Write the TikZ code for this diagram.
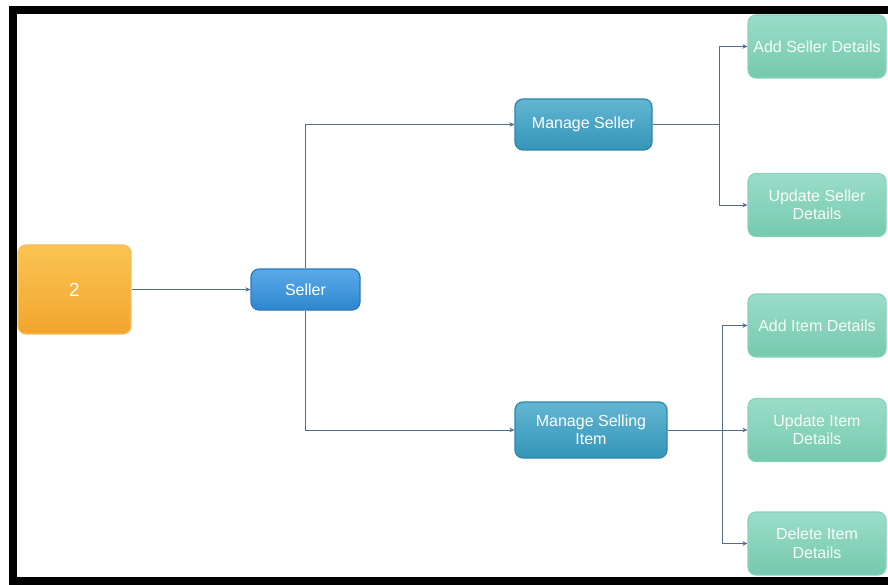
\documentclass[tikz,border=0pt]{standalone}
\usepackage{fontspec}
\setmainfont{Liberation Sans}
\usetikzlibrary{arrows.meta}
\definecolor{arrc}{HTML}{4F6E8E}
\definecolor{orTop}{HTML}{FAC451}
\definecolor{orBot}{HTML}{F2A52E}
\definecolor{orDraw}{HTML}{F4BE5E}
\definecolor{blTop}{HTML}{5AAAE8}
\definecolor{blBot}{HTML}{2F86CE}
\definecolor{blDraw}{HTML}{2A78BA}
\definecolor{tlTop}{HTML}{62B6D2}
\definecolor{tlBot}{HTML}{3595B8}
\definecolor{tlDraw}{HTML}{2E87A8}
\definecolor{mnTop}{HTML}{9ADDC8}
\definecolor{mnBot}{HTML}{75C9AE}
\definecolor{mnDraw}{HTML}{86D2BA}
\tikzset{
  box/.style={rounded corners=8pt, inner sep=0pt, align=center, text=white, font=\fontsize{16}{18.5}\selectfont, line width=1.2pt},
  rootbox/.style={box, top color=orTop, bottom color=orBot, draw=orDraw, minimum width=113pt, minimum height=89pt, font=\fontsize{19}{21}\selectfont},
  sellerbox/.style={box, top color=blTop, bottom color=blBot, draw=blDraw, minimum width=109pt, minimum height=41pt},
  midbox/.style={box, top color=tlTop, bottom color=tlBot, draw=tlDraw},
  leafbox/.style={box, top color=mnTop, bottom color=mnBot, draw=mnDraw, minimum width=138pt, minimum height=63pt, text=white!94!mnBot},
  arr/.style={draw=arrc, line width=0.8pt, -{Stealth[length=5pt,width=4.5pt]}},
  ln/.style={draw=arrc, line width=0.8pt}
}
\begin{document}
\begin{tikzpicture}[x=1pt,y=-1pt]
\useasboundingbox (0,0) rectangle (888,585);
\fill[white] (0,0) rectangle (888,585);
% frame
\fill[black] (9,6) rectangle (888,14);
\fill[black] (9,6) rectangle (17,585);
\fill[black] (9,577) rectangle (888,585);

\node[rootbox] (root) at (74.5,289.5) {2};
\node[sellerbox] (seller) at (305.5,289.5) {Seller};
\node[midbox, minimum width=137pt, minimum height=51pt] (ms) at (583.5,124.5) {Manage Seller};
\node[midbox, minimum width=152pt, minimum height=56pt] (msi) at (591,430) {Manage Selling\\Item};

\node[leafbox] (asd) at (817,46.5) {Add Seller Details};
\node[leafbox] (usd) at (817,205) {Update Seller\\Details};
\node[leafbox] (aid) at (817,325.5) {Add Item Details};
\node[leafbox] (uid) at (817,430) {Update Item\\Details};
\node[leafbox] (did) at (817,543.5) {Delete Item\\Details};

\coordinate (j1) at (719,124.5);
\coordinate (j2) at (722,430);

\draw[arr] (root.east) -- (seller.west);
\draw[arr] (seller.north) |- (ms.west);
\draw[arr] (seller.south) |- (msi.west);
\draw[ln] (ms.east) -- (j1);
\draw[arr] (j1) |- (asd.west);
\draw[arr] (j1) |- (usd.west);
\draw[ln] (msi.east) -- (j2);
\draw[arr] (j2) |- (aid.west);
\draw[arr] (j2) -- (uid.west);
\draw[arr] (j2) |- (did.west);
\end{tikzpicture}
\end{document}
